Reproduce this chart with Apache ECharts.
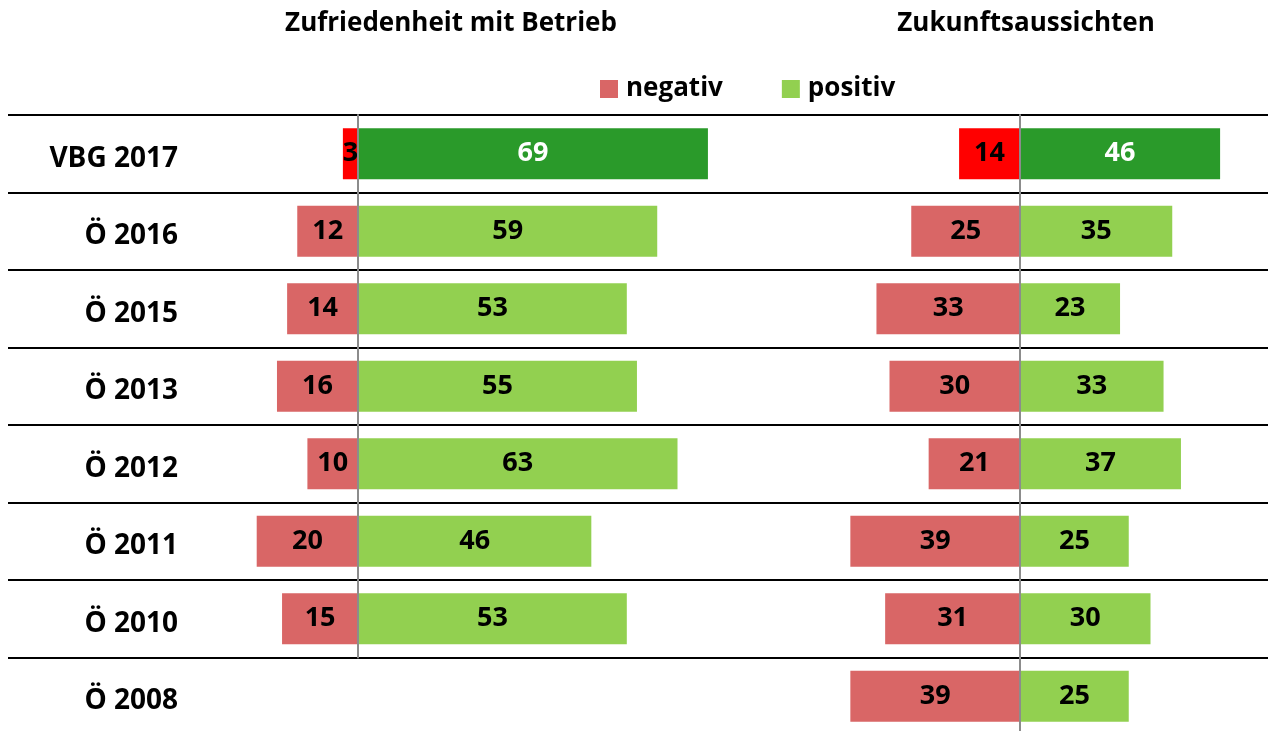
<!DOCTYPE html>
<html>
<head>
<meta charset="utf-8">
<script src="https://cdn.jsdelivr.net/npm/echarts@6/dist/echarts.min.js"></script>
<style>
  html, body { margin: 0; padding: 0; background: #fff; }
  #chart { width: 1268px; height: 731px; }
</style>
</head>
<body>
<div id="chart"></div>
<script>
// Zeilen (oben nach unten)
const years = ['VBG 2017', 'Ö 2016', 'Ö 2015', 'Ö 2013', 'Ö 2012', 'Ö 2011', 'Ö 2010', 'Ö 2008'];

// Zufriedenheit mit Betrieb (kein Wert für 2008)
const betriebNeg = [3, 12, 14, 16, 10, 20, 15];
const betriebPos = [69, 59, 53, 55, 63, 46, 53];

// Zukunftsaussichten
const zukunftNeg = [14, 25, 33, 30, 21, 39, 31, 39];
const zukunftPos = [46, 35, 23, 33, 37, 25, 30, 25];

const FONT = 'Open Sans';
const colNeg = '#D96666';
const colPos = '#92D050';
const colNegHi = '#FF0000';
const colPosHi = '#2A9A2A';

const chart = echarts.init(document.getElementById('chart'));

// erste Zeile (VBG 2017) hervorgehoben
function toData(arr, sign, hiColor, hiLabel) {
  return arr.map((v, i) => {
    const d = { value: sign * v };
    if (i === 0) {
      d.itemStyle = { color: hiColor };
      if (hiLabel) d.label = { color: hiLabel };
    }
    return d;
  });
}

const barLabel = {
  show: true,
  position: 'inside',
  color: '#000',
  fontFamily: FONT,
  fontWeight: 'bold',
  fontSize: 27,
  formatter: p => Math.abs(p.value),
};

function catAxis(gridIndex, data) {
  return {
    type: 'category',
    gridIndex: gridIndex,
    data: data,
    inverse: true,
    z: 5,
    axisLine: { show: true, onZero: true, lineStyle: { color: '#8c8c8c', width: 2 } },
    axisTick: { show: false },
    axisLabel: { show: false },
    splitLine: { show: false },
  };
}

const titleStyle = { fontFamily: FONT, fontWeight: 'bold', fontSize: 26, color: '#000' };

const option = {
  animation: false,
  backgroundColor: '#fff',
  title: [
    { text: 'Zufriedenheit mit Betrieb', left: 446, top: 6, textAlign: 'center', textStyle: titleStyle },
    { text: 'Zukunftsaussichten', left: 1021, top: 6, textAlign: 'center', textStyle: titleStyle },
  ],
  legend: {
    data: ['negativ', 'positiv'],
    left: 595,
    top: 71,
    icon: 'rect',
    itemWidth: 18,
    itemHeight: 18,
    itemGap: 59,
    textStyle: { fontFamily: FONT, fontWeight: 'bold', fontSize: 26, color: '#000', padding: [0, 0, 0, 3] },
  },
  grid: [
    { left: 206, width: 507, top: 115, height: 542.5, outerBoundsMode: 'none' },
    { left: 846, width: 391.5, top: 115, height: 620, outerBoundsMode: 'none' },
    // Trennlinien über die ganze Breite
    { left: 8, right: 0, top: 115, height: 620, outerBoundsMode: 'none' },
    // Zeilenbeschriftung, etwas tiefer gesetzt
    { left: 8, right: 0, top: 120, height: 620, outerBoundsMode: 'none' },
  ],
  xAxis: [
    { type: 'value', gridIndex: 0, min: -30, max: 70, show: false },
    { type: 'value', gridIndex: 1, min: -40, max: 50, show: false },
    { type: 'value', gridIndex: 2, min: 0, max: 1, show: false },
    { type: 'value', gridIndex: 3, min: 0, max: 1, show: false },
  ],
  yAxis: [
    catAxis(0, years.slice(0, betriebNeg.length)),
    catAxis(1, years),
    {
      type: 'category',
      gridIndex: 2,
      data: years,
      inverse: true,
      axisLine: { show: false },
      axisTick: { show: false },
      axisLabel: { show: false },
      splitLine: { show: true, interval: 0, lineStyle: { color: '#000', width: 2 } },
    },
    {
      type: 'category',
      gridIndex: 3,
      data: years,
      inverse: true,
      axisLine: { show: false },
      axisTick: { show: false },
      splitLine: { show: false },
      axisLabel: {
        show: true,
        inside: true,
        margin: 170,
        align: 'right',
        fontFamily: FONT,
        fontWeight: 'bold',
        fontSize: 28,
        color: '#000',
      },
    },
  ],
  series: [
    {
      name: 'negativ', type: 'bar', xAxisIndex: 0, yAxisIndex: 0, stack: 'betrieb',
      barWidth: 51, itemStyle: { color: colNeg }, label: barLabel,
      data: toData(betriebNeg, -1, colNegHi),
    },
    {
      name: 'positiv', type: 'bar', xAxisIndex: 0, yAxisIndex: 0, stack: 'betrieb',
      barWidth: 51, itemStyle: { color: colPos }, label: barLabel,
      data: toData(betriebPos, 1, colPosHi, '#fff'),
    },
    {
      name: 'negativ', type: 'bar', xAxisIndex: 1, yAxisIndex: 1, stack: 'zukunft',
      barWidth: 51, itemStyle: { color: colNeg }, label: barLabel,
      data: toData(zukunftNeg, -1, colNegHi),
    },
    {
      name: 'positiv', type: 'bar', xAxisIndex: 1, yAxisIndex: 1, stack: 'zukunft',
      barWidth: 51, itemStyle: { color: colPos }, label: barLabel,
      data: toData(zukunftPos, 1, colPosHi, '#fff'),
    },
  ],
};

chart.setOption(option);
window.addEventListener('resize', () => chart.resize());
</script>
</body>
</html>
